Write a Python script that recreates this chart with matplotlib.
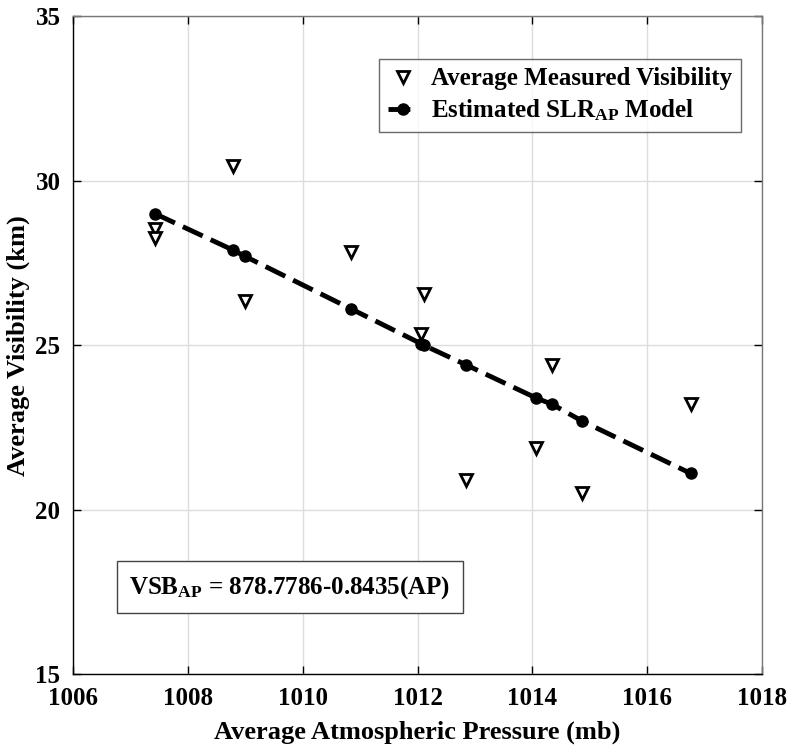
import matplotlib.pyplot as plt
import numpy as np

plt.rcParams['font.family'] = ['Liberation Serif', 'DejaVu Serif']
plt.rcParams['font.weight'] = 'bold'
plt.rcParams['mathtext.fontset'] = 'custom'
plt.rcParams['mathtext.rm'] = 'Liberation Serif:bold'
plt.rcParams['mathtext.bf'] = 'Liberation Serif:bold'
plt.rcParams['mathtext.it'] = 'Liberation Serif:bold'

# measured visibility
ap_meas = [1007.43, 1007.43, 1008.78, 1009.0, 1010.85, 1012.11, 1012.06,
           1012.85, 1014.06, 1014.35, 1014.86, 1016.76]
vis_meas = [28.54, 28.26, 30.45, 26.36, 27.85, 26.55, 25.34,
            20.89, 21.87, 24.4, 20.52, 23.22]

# estimated SLR model points
ap_model = [1007.43, 1008.78, 1009.0, 1010.85, 1012.06, 1012.11, 1012.85,
            1014.06, 1014.35, 1014.86, 1016.76]
vis_model = [29.0, 27.9, 27.7, 26.1, 25.05, 25.0, 24.4, 23.4, 23.2, 22.7, 21.1]

fig = plt.figure(figsize=(7.9, 7.49), dpi=100)
ax = fig.add_axes([0.0924, 0.1001, 0.8722, 0.8779])

ax.plot(ap_meas, vis_meas, linestyle='none', marker='v', markersize=9,
        markerfacecolor='white', markeredgecolor='black', markeredgewidth=2,
        label='Average Measured Visibility', zorder=3)
ax.plot(ap_model, vis_model, linestyle=(0, (4.5, 1.8)), color='black', linewidth=3.5,
        marker='o', markersize=8, markerfacecolor='black', markeredgecolor='black',
        label='Estimated SLR$_{\\mathbf{AP}}$ Model', zorder=4)

ax.set_xlim(1006, 1018)
ax.set_ylim(15, 35)
ax.set_xticks(np.arange(1006, 1019, 2))
ax.set_yticks(np.arange(15, 36, 5))
ax.grid(True, color='#dcdcdc', linewidth=1)
ax.set_axisbelow(True)
ax.tick_params(direction='in', labelsize=18, length=6, width=1, top=True, right=True)
ax.tick_params(axis='x', pad=9)
ax.tick_params(axis='y', pad=9)
for side in ['top', 'right']:
    ax.spines[side].set_color('#777777')
for s in ax.spines.values():
    s.set_linewidth(1)

ax.set_xlabel('Average Atmospheric Pressure (mb)', fontsize=19, fontweight='bold', labelpad=8)
ax.set_ylabel('Average Visibility (km)', fontsize=19, fontweight='bold', labelpad=4)

leg = ax.legend(loc='upper right', bbox_to_anchor=(0.987, 0.955), fontsize=18,
                frameon=True, fancybox=False, edgecolor='#444444',
                handlelength=1.2, handletextpad=0.5, borderpad=0.35, labelspacing=0.3)
leg.get_frame().set_linewidth(1)

ax.text(0.082, 0.132, 'VSB$_{\\mathbf{AP}}$ = 878.7786-0.8435(AP)', transform=ax.transAxes,
        fontsize=18, fontweight='bold', va='center', ha='left',
        bbox=dict(boxstyle='square,pad=0.5', facecolor='white', edgecolor='#444444', linewidth=1))

fig.savefig('out.png', dpi=100)
